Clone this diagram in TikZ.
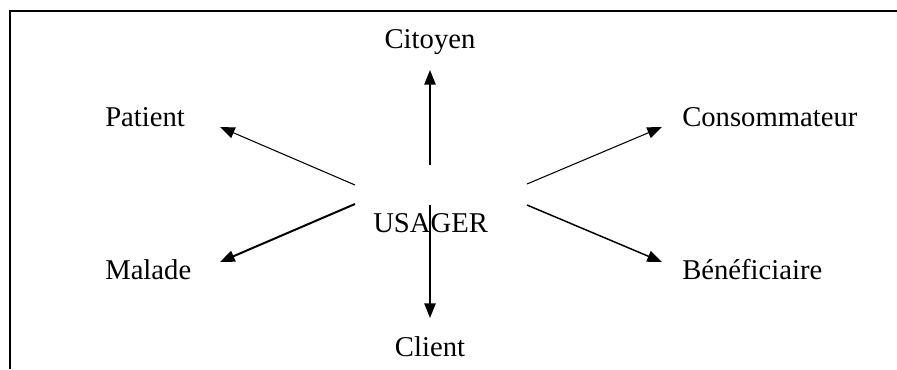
\documentclass[tikz,border=0pt]{standalone}
\usepackage{fontspec}
\setmainfont{Liberation Serif}
\usetikzlibrary{arrows.meta}

\begin{document}
\begin{tikzpicture}[
    x=0.75pt, y=-0.75pt,
    label/.style={inner sep=0pt, font=\fontsize{21.5}{26}\selectfont},
    arrow/.style={-{Triangle[length=11pt, width=8.5pt]}, line width=1.1pt},
    frame/.style={line width=1.5pt}
]
    \useasboundingbox (0,0) rectangle (897,369);
    \draw[frame] (897,11) -- (9.5,11) -- (9.5,369);

    \node[label, anchor=base west] (usager) at (373,232) {USAGER};
    \node[label, anchor=base] (citoyen) at (430,48) {Citoyen};
    \node[label, anchor=base] (client) at (430,356) {Client};
    \node[label, anchor=base west] (patient) at (105,126) {Patient};
    \node[label, anchor=base west] (malade) at (105,279) {Malade};
    \node[label, anchor=base west] (conso) at (682,126) {Consommateur};
    \node[label, anchor=base west] (benef) at (682,279) {Bénéficiaire};

    % tails and tips
    \coordinate (tCit) at (430,165);   \coordinate (hCit) at (430,70);
    \coordinate (tCli) at (430,205);   \coordinate (hCli) at (430,318);
    \coordinate (tPat) at (355,185);   \coordinate (hPat) at (220,127);
    \coordinate (tMal) at (355,204);   \coordinate (hMal) at (220,262);
    \coordinate (tCon) at (527,184);   \coordinate (hCon) at (662,127);
    \coordinate (tBen) at (527,205);   \coordinate (hBen) at (662,262);

    \draw[arrow] (tCit) -- (hCit);
    \draw[arrow] (tCli) -- (hCli);
    \draw[arrow, line width=0.8pt] (tPat) -- (hPat);
    \draw[arrow, line width=1.5pt] (tMal) -- (hMal);
    \draw[arrow, line width=0.8pt] (tCon) -- (hCon);
    \draw[arrow] (tBen) -- (hBen);
\end{tikzpicture}
\end{document}
